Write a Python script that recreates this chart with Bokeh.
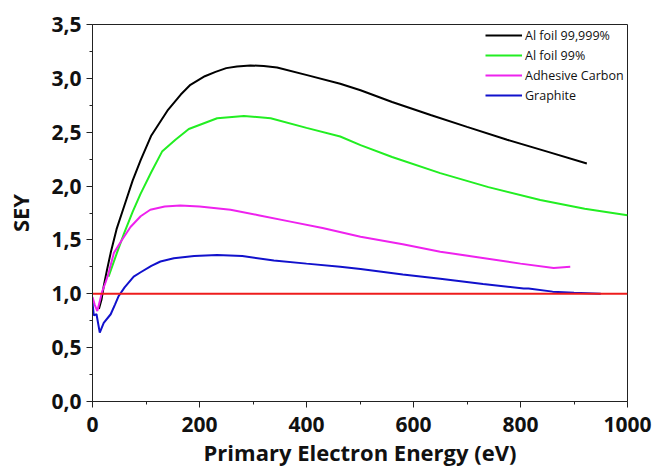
from bokeh.plotting import figure
from bokeh.models import Range1d, FixedTicker, CustomJSTickFormatter, Legend, LegendItem
from bokeh.embed import file_html
from bokeh.resources import INLINE

# ---- data ----
al999_x = [12, 17, 21, 27, 34, 45, 59, 75, 90, 110, 140, 165, 183, 210, 230, 250, 270, 295, 320, 345, 401, 463, 501, 560, 632, 700, 775, 850, 924]
al999_y = [0.86, 0.95, 1.07, 1.22, 1.38, 1.60, 1.81, 2.05, 2.24, 2.47, 2.70, 2.85, 2.94, 3.02, 3.06, 3.095, 3.11, 3.12, 3.115, 3.10, 3.03, 2.95, 2.89, 2.78, 2.66, 2.55, 2.43, 2.32, 2.21]

al99_x = [30, 45, 59, 75, 90, 110, 130, 155, 180, 233, 283, 333, 400, 463, 501, 560, 650, 740, 837, 920, 1000]
al99_y = [1.16, 1.37, 1.56, 1.76, 1.93, 2.13, 2.32, 2.43, 2.53, 2.63, 2.65, 2.63, 2.54, 2.46, 2.38, 2.27, 2.12, 1.99, 1.87, 1.79, 1.73]

carbon_x = [0, 4, 9, 13, 18, 24, 30, 40, 55, 71, 90, 108, 135, 164, 200, 258, 310, 370, 430, 501, 580, 650, 720, 800, 862, 893]
carbon_y = [0.97, 0.90, 0.84, 0.92, 1.02, 1.10, 1.19, 1.38, 1.50, 1.62, 1.72, 1.78, 1.81, 1.82, 1.81, 1.78, 1.73, 1.67, 1.61, 1.53, 1.46, 1.39, 1.34, 1.28, 1.24, 1.25]

graphite_x = [0, 2.5, 7.5, 13.6, 21, 34, 42, 49, 60, 77, 90, 110, 127, 152, 190, 233, 280, 339, 400, 463, 501, 580, 650, 730, 806, 815, 860, 900, 950]
graphite_y = [0.91, 0.80, 0.81, 0.64, 0.73, 0.81, 0.90, 0.98, 1.06, 1.16, 1.20, 1.26, 1.30, 1.33, 1.35, 1.36, 1.35, 1.31, 1.28, 1.25, 1.23, 1.18, 1.14, 1.09, 1.05, 1.05, 1.02, 1.01, 1.00]

ref_x = [0, 1000]
ref_y = [1.0, 1.0]

labels = ["Al foil 99,999%", "Al foil 99%", "Adhesive Carbon", "Graphite"]
colors = ["#000000", "#22ee22", "#ee22ee", "#1111cc"]

x_ticks = [0, 200, 400, 600, 800, 1000]
x_minor = [100, 300, 500, 700, 900]
y_ticks = [0.0, 0.5, 1.0, 1.5, 2.0, 2.5, 3.0, 3.5]
y_minor = [0.25, 0.75, 1.25, 1.75, 2.25, 2.75, 3.25]

p = figure(width=658, height=469, output_backend="svg", toolbar_location=None,
           x_range=Range1d(0, 1000), y_range=Range1d(0, 3.5),
           min_border_left=92, min_border_right=31, min_border_top=24, min_border_bottom=67)
p.grid.visible = False
p.outline_line_color = "#222222"
p.outline_line_width = 1

series = [(al999_x, al999_y), (al99_x, al99_y), (carbon_x, carbon_y), (graphite_x, graphite_y)]
renderers = []
for (xs, ys), c in zip(series, colors):
    r = p.line(xs, ys, line_color=c, line_width=2)
    renderers.append(r)
p.line(ref_x, ref_y, line_color="#ee1c1c", line_width=2)

for ax in (p.xaxis[0], p.yaxis[0]):
    ax.axis_line_color = "#222222"
    ax.major_tick_line_color = "#222222"
    ax.minor_tick_line_color = "#222222"
    ax.major_tick_out = 6
    ax.major_tick_in = 0
    ax.minor_tick_out = 3
    ax.minor_tick_in = 0
    ax.major_label_text_font = "Open Sans"
    ax.major_label_text_font_style = "bold"
    ax.major_label_text_font_size = "21px"
    ax.major_label_text_color = "#111111"
    ax.axis_label_text_font = "Open Sans"
    ax.axis_label_text_font_style = "bold"
    ax.axis_label_text_font_size = "22px"
    ax.axis_label_text_color = "#111111"

p.xaxis.ticker = FixedTicker(ticks=x_ticks, minor_ticks=x_minor)
p.yaxis.ticker = FixedTicker(ticks=y_ticks, minor_ticks=y_minor)
p.xaxis.formatter = CustomJSTickFormatter(code="return tick.toFixed(0);")
p.yaxis.formatter = CustomJSTickFormatter(code="return tick.toFixed(1).replace('.', ',');")
p.xaxis.major_label_standoff = 9
p.yaxis.major_label_standoff = 5
p.xaxis.axis_label = "Primary Electron Energy (eV)"
p.yaxis.axis_label = "SEY"
p.xaxis.axis_label_standoff = 2
p.yaxis.axis_label_standoff = 13

items = [LegendItem(label=l, renderers=[r]) for l, r in zip(labels, renderers)]
legend = Legend(items=items, location=(393, 296))
legend.border_line_alpha = 0
legend.background_fill_alpha = 0
legend.padding = 0
legend.margin = 0
legend.spacing = 0
legend.glyph_width = 37
legend.glyph_height = 20
legend.label_height = 20
legend.label_standoff = 3
legend.label_text_font = "Open Sans"
legend.label_text_font_size = "12.5px"
legend.label_text_color = "#111111"
p.add_layout(legend, "center")

open("out.html", "w").write(file_html(p, INLINE))
